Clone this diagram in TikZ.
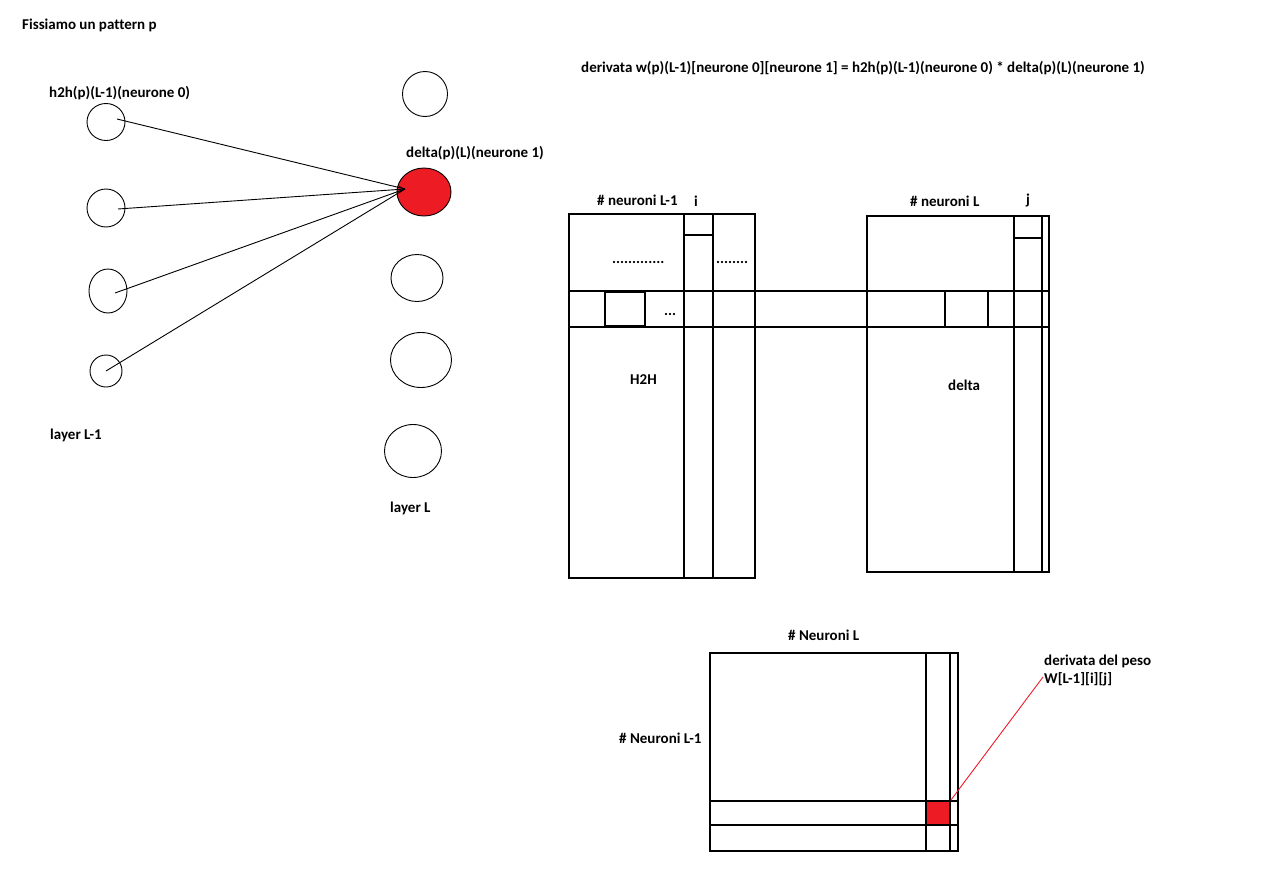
\documentclass[tikz,border=0pt]{standalone}
\usepackage{fontspec}
\setmainfont[Ligatures=NoCommon]{Carlito}
\usetikzlibrary{shapes.geometric,calc,arrows.meta}
\definecolor{pred}{HTML}{ED1C24}
\tikzset{
  lbl/.style={anchor=west,inner sep=0pt,font=\bfseries\fontsize{15}{18}\selectfont},
  neu/.style={draw,ellipse,line width=0.9pt,inner sep=0pt},
  grid/.style={line width=1.5pt},
  conn/.style={line width=0.9pt}
}
\begin{document}
\begin{tikzpicture}[x=1pt,y=-1pt]
\useasboundingbox (0,0) rectangle (1264,894);
% title
\node[lbl] (title) at (22,25) {Fissiamo un pattern p};
\node[lbl] (formula) at (581,68) {derivata w(p)(L-1)[neurone 0][neurone 1] = h2h(p)(L-1)(neurone 0) * delta(p)(L)(neurone 1)};
% layer L-1
\node[lbl] (h2hlbl) at (49,93) {h2h(p)(L-1)(neurone 0)};
\node[neu,minimum width=38pt,minimum height=37pt] (a1) at (106,122) {};
\node[neu,minimum width=38pt,minimum height=38pt] (a2) at (106,208) {};
\node[neu,minimum width=38pt,minimum height=44pt] (a3) at (108,291) {};
\node[neu,minimum width=32pt,minimum height=32pt] (a4) at (106,371) {};
\node[lbl] (lay1) at (50,435) {layer L-1};
% layer L
\node[neu,minimum width=45pt,minimum height=45pt] (b1) at (425,94) {};
\node[lbl] (dlbl) at (406,153) {delta(p)(L)(neurone 1)};
\node[neu,fill=pred,minimum width=54pt,minimum height=48pt] (b2) at (424,192) {};
\node[neu,minimum width=52pt,minimum height=47pt] (b3) at (417,278) {};
\node[neu,minimum width=61pt,minimum height=55pt] (b4) at (421,360) {};
\node[neu,minimum width=57pt,minimum height=53pt] (b5) at (413,451) {};
\node[lbl] (lay2) at (390,508) {layer L};
% connections
\coordinate (tgt) at (405,189);
\draw[conn] ($(a1.center)+(11,-3)$) -- (tgt);
\draw[conn,-{Straight Barb[length=5pt,width=6pt]}] ($(a2.center)+(12,1)$) -- (tgt);
\draw[conn] ($(a3.center)+(7,2)$) -- (tgt);
\draw[conn] ($(a4.center)+(0,0)$) -- (tgt);
% matrix H2H
\draw[grid] (569,214) rectangle (755,578);
\draw[grid] (684,214) -- (684,578);
\draw[grid] (713,214) -- (713,578);
\draw[grid] (684,214) rectangle (713,235);
\draw[grid] (569,291) -- (1049,291);
\draw[grid] (569,327) -- (1049,327);
\draw[grid] (605,292) rectangle (645,326);
\node[lbl] (dots1) at (612,262) {.............};
\node[lbl] (dots2) at (716,262) {........};
\node[lbl] (dots3) at (664,314) {...};
\node[lbl] (n1) at (597,200) {\# neuroni L-1};
\node[lbl] (ilbl) at (694,201) {i};
\node[lbl] (h2h) at (630,380) {H2H};
% matrix delta
\draw[grid] (867,216) rectangle (1049,572);
\draw[grid] (1014,216) -- (1014,572);
\draw[grid] (1042,216) -- (1042,572);
\draw[grid] (1014,216) rectangle (1042,238);
\draw[grid] (945,291) -- (945,327);
\draw[grid] (988,291) -- (988,327);
\node[lbl] (n2) at (910,201) {\# neuroni L};
\node[lbl] (jlbl) at (1026,201) {j};
\node[lbl] (dl) at (948,385) {delta};
% weight matrix
\draw[grid] (710,653) rectangle (958,851);
\draw[grid] (926,653) -- (926,851);
\draw[grid] (950,653) -- (950,851);
\draw[grid] (710,801) -- (958,801);
\draw[grid] (710,825) -- (958,825);
\node[fill=pred,draw,line width=1.5pt,minimum size=24pt,inner sep=0pt] (cell) at (938,813) {};
\node[lbl] (n3) at (788,635) {\# Neuroni L};
\node[lbl] (n4) at (619,738) {\# Neuroni L-1};
\node[lbl,align=left,anchor=north west] (wlbl) at (1044,655) {derivata del peso\\W[L-1][i][j]};
\coordinate (wend) at (1043,677);
\draw[pred,line width=0.9pt] (cell.north east) -- (wend);
\end{tikzpicture}
\end{document}
